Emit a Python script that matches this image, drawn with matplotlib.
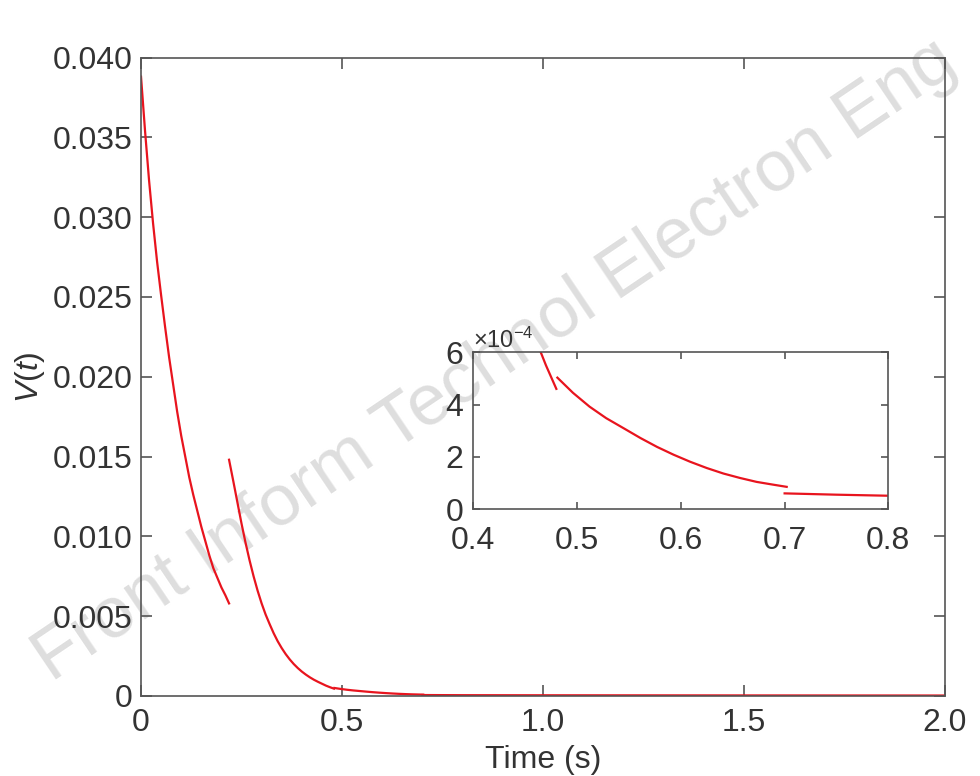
import numpy as np
import matplotlib
matplotlib.use('Agg')
import matplotlib.pyplot as plt
from matplotlib.ticker import ScalarFormatter

plt.rcParams['font.family'] = ['Liberation Sans', 'DejaVu Sans']
plt.rcParams['mathtext.fontset'] = 'custom'
plt.rcParams['mathtext.rm'] = 'Liberation Sans'
plt.rcParams['mathtext.it'] = 'Liberation Sans:italic'

# piecewise decay of V(t)
t1 = [0.0, 0.01, 0.02, 0.03, 0.04, 0.05, 0.06, 0.07, 0.08, 0.09, 0.10, 0.11,
      0.12, 0.13, 0.14, 0.15, 0.16, 0.17, 0.18, 0.19, 0.20, 0.21, 0.219]
v1 = [0.0388, 0.0354, 0.0323, 0.0296, 0.0272, 0.0251, 0.0231, 0.0212,
      0.0195, 0.0178, 0.0163, 0.0150, 0.0137, 0.0126, 0.0116, 0.0106,
      0.0097, 0.0088, 0.0080, 0.0074, 0.0068, 0.0063, 0.0058]

t2 = [0.219, 0.230, 0.240, 0.250, 0.260, 0.270, 0.280, 0.290, 0.300,
      0.310, 0.320, 0.330, 0.340, 0.350, 0.360, 0.370, 0.380, 0.390,
      0.400, 0.410, 0.420, 0.430, 0.440, 0.450, 0.460, 0.470, 0.480]
v2 = [0.0148, 0.0134, 0.0121, 0.0108, 0.0096, 0.0085, 0.0075, 0.0066,
      0.0058, 0.0051, 0.0045, 0.00393, 0.00343, 0.00300, 0.00262, 0.00229,
      0.00200, 0.00175, 0.00153, 0.00134, 0.00117, 0.00102, 0.00089,
      0.00077, 0.00065, 0.00055, 0.00046]

t3 = [0.481, 0.496, 0.512, 0.528, 0.545, 0.561, 0.577, 0.593, 0.609,
      0.625, 0.641, 0.657, 0.673, 0.688, 0.702]
v3 = [5.03e-4, 4.45e-4, 3.92e-4, 3.48e-4, 3.09e-4, 2.72e-4, 2.38e-4,
      2.08e-4, 1.81e-4, 1.57e-4, 1.36e-4, 1.19e-4, 1.04e-4, 0.94e-4, 0.85e-4]

t4 = [0.700, 0.750, 0.800, 1.0, 1.5, 2.0]
v4 = [0.60e-4, 0.55e-4, 0.51e-4, 0.45e-4, 0.36e-4, 0.30e-4]

segments = [(t1, v1), (t2, v2), (t3, v3), (t4, v4)]

red = '#e8141e'
grey = '#555555'
txt = '#333333'

fig = plt.figure(figsize=(9.8, 7.76), dpi=100)
fig.patch.set_facecolor('white')

# watermark
fig.text(0.505, 0.535, 'Front Inform Technol Electron Eng', fontsize=52,
         color='#dedede', rotation=34, ha='center', va='center',
         rotation_mode='anchor', zorder=-1)

def style(ax, ticklen, pad_x, pad_y):
    for s in ax.spines.values():
        s.set_color(grey)
        s.set_linewidth(1.2)
    ax.set_facecolor('none')
    ax.tick_params(direction='in', top=True, right=True, length=ticklen,
                   width=1.2, color=grey, labelsize=23, labelcolor=txt)
    ax.tick_params(axis='x', pad=pad_x)
    ax.tick_params(axis='y', pad=pad_y)

ax = fig.add_axes([0.1439, 0.1031, 0.8204, 0.8228])
for t, v in segments:
    ax.plot(t, v, color=red, lw=1.6)
ax.set_xlim(0, 2.0)
ax.set_ylim(0, 0.040)
ax.set_xticks([0, 0.5, 1.0, 1.5, 2.0])
ax.set_xticklabels(['0', '0.5', '1.0', '1.5', '2.0'])
ax.set_yticks(np.arange(0, 0.0401, 0.005))
ax.set_yticklabels(['0', '0.005', '0.010', '0.015', '0.020', '0.025',
                    '0.030', '0.035', '0.040'])
style(ax, 8, 9, 6)
ax.set_xlabel('Time (s)', fontsize=23, color=txt, labelpad=5)
ax.set_ylabel('$V$($t$)', fontsize=23, color=txt, labelpad=4)

ins = fig.add_axes([0.483, 0.344, 0.4235, 0.202])
for t, v in segments:
    ins.plot(t, v, color=red, lw=1.6)
ins.set_xlim(0.4, 0.8)
ins.set_ylim(0, 6e-4)
ins.set_xticks([0.4, 0.5, 0.6, 0.7, 0.8])
ins.set_yticks([0, 2e-4, 4e-4, 6e-4])
fmt = ScalarFormatter(useMathText=True)
fmt.set_powerlimits((-3, 3))
ins.yaxis.set_major_formatter(fmt)
style(ins, 5, 12, 7)
ins.yaxis.get_offset_text().set_fontsize(17)
ins.yaxis.get_offset_text().set_color(txt)

fig.savefig('out.png', dpi=100, facecolor='white')
